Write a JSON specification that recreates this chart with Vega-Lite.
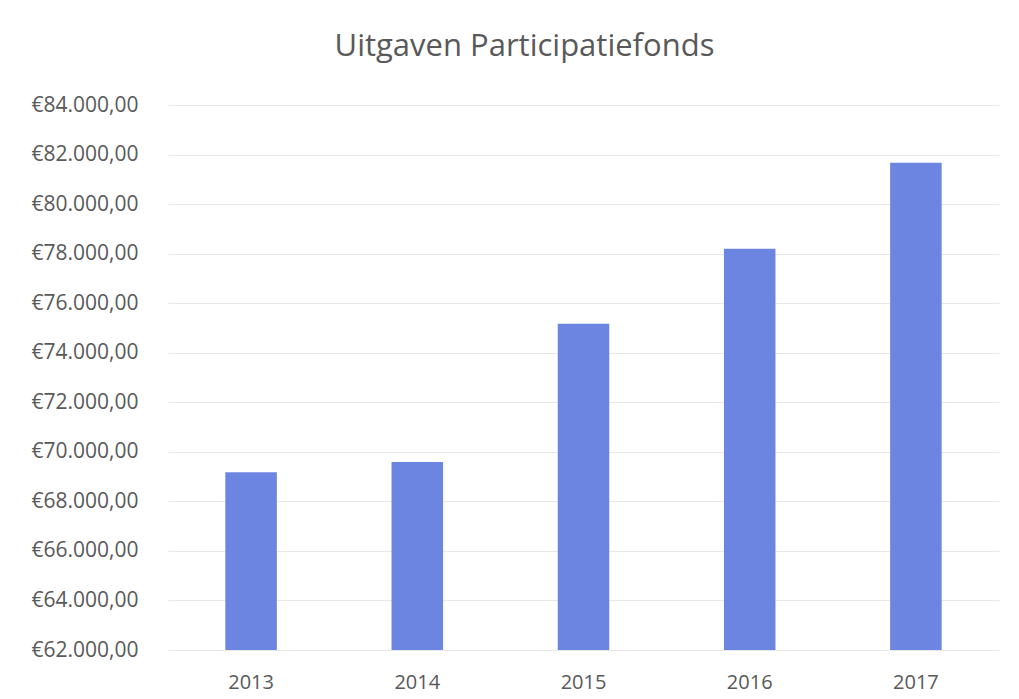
{
  "$schema": "https://vega.github.io/schema/vega-lite/v6.json",
  "width": 831,
  "height": 545,
  "autosize": {"type": "none"},
  "padding": {"left": 168, "top": 105, "right": 20, "bottom": 49},
  "background": "white",
  "title": {
    "text": "Uitgaven Participatiefonds",
    "font": "Open Sans",
    "fontSize": 31,
    "fontWeight": "normal",
    "color": "#595959",
    "anchor": "middle",
    "frame": "group",
    "dx": -59,
    "offset": 31
  },
  "data": {
    "values": [
      {"jaar": "2013", "uitgaven": 69180},
      {"jaar": "2014", "uitgaven": 69585},
      {"jaar": "2015", "uitgaven": 75170},
      {"jaar": "2016", "uitgaven": 78200},
      {"jaar": "2017", "uitgaven": 81670}
    ]
  },
  "mark": {"type": "bar", "color": "#6b85e0"},
  "encoding": {
    "x": {
      "field": "jaar",
      "type": "nominal",
      "title": null,
      "scale": {"paddingInner": 0.69, "paddingOuter": 0.345},
      "axis": {
        "labelAngle": 0,
        "labelFont": "Open Sans",
        "labelFontSize": 20,
        "labelColor": "#595959",
        "labelPadding": 22,
        "ticks": false,
        "domain": false,
        "grid": false
      }
    },
    "y": {
      "field": "uitgaven",
      "type": "quantitative",
      "title": null,
      "scale": {"domain": [62000, 84000], "zero": false, "nice": false, "clamp": true},
      "axis": {
        "values": [62000, 64000, 66000, 68000, 70000, 72000, 74000, 76000, 78000, 80000, 82000, 84000],
        "labelExpr": "'€' + replace(replace(replace(format(datum.value, ',.2f'), ',', '#'), '.', ','), '#', '.')",
        "labelFont": "Open Sans",
        "labelFontSize": 21,
        "labelColor": "#595959",
        "labelPadding": 30,
        "ticks": false,
        "domain": false,
        "grid": true,
        "gridColor": "#e8e8e8",
        "gridWidth": 1
      }
    }
  },
  "config": {"view": {"stroke": null}}
}
